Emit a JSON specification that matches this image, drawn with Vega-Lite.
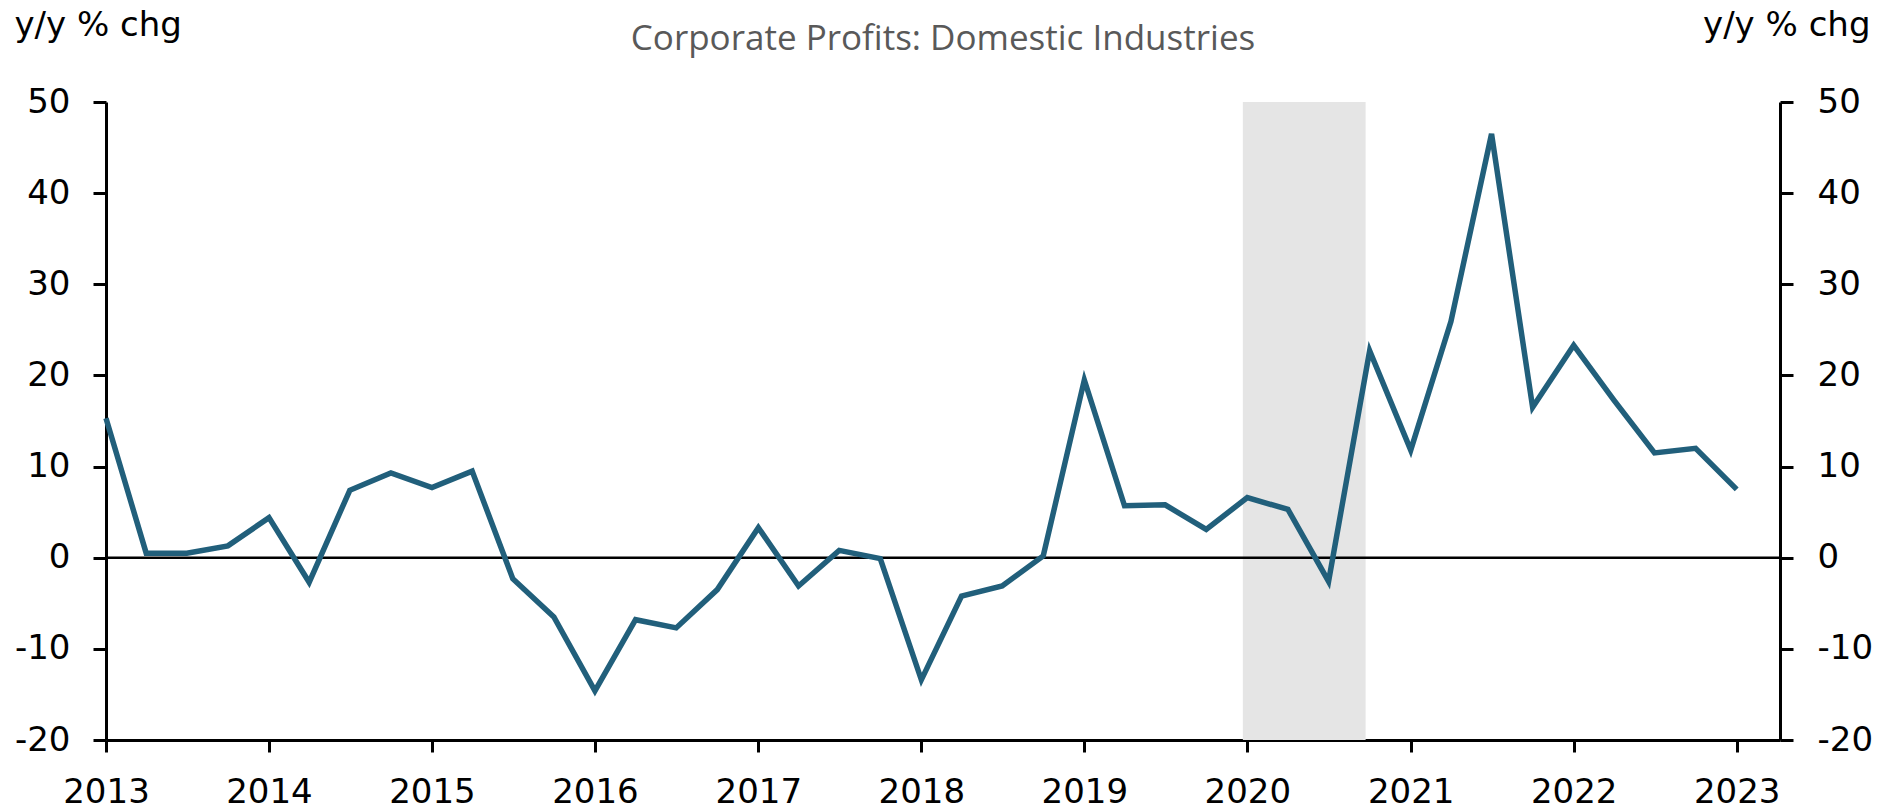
{
  "$schema": "https://vega.github.io/schema/vega-lite/v6.json",
  "autosize": {"type": "none"},
  "width": 1674,
  "height": 638,
  "padding": {"left": 106, "top": 102, "right": 118, "bottom": 72},
  "background": "white",
  "title": {
    "text": "Corporate Profits: Domestic Industries",
    "anchor": "middle",
    "frame": "group",
    "font": "Open Sans",
    "fontSize": 35,
    "fontWeight": "normal",
    "color": "#595959",
    "baseline": "alphabetic",
    "offset": 0,
    "dy": 77
  },
  "config": {
    "view": {"stroke": null},
    "axis": {
      "grid": false,
      "domainColor": "black",
      "domainWidth": 3,
      "tickColor": "black",
      "tickWidth": 3,
      "labelFont": "DejaVu Sans",
      "labelFontSize": 34,
      "labelColor": "black",
      "titleFont": "DejaVu Sans",
      "titleFontSize": 34,
      "titleFontWeight": "normal",
      "titleColor": "black"
    }
  },
  "datasets": {
    "profits": [
      {"date": "2013-01-01", "value": 15.3},
      {"date": "2013-04-01", "value": 0.5},
      {"date": "2013-07-01", "value": 0.5},
      {"date": "2013-10-01", "value": 1.3},
      {"date": "2014-01-01", "value": 4.4},
      {"date": "2014-04-01", "value": -2.7},
      {"date": "2014-07-01", "value": 7.4},
      {"date": "2014-10-01", "value": 9.3},
      {"date": "2015-01-01", "value": 7.7},
      {"date": "2015-04-01", "value": 9.5},
      {"date": "2015-07-01", "value": -2.3},
      {"date": "2015-10-01", "value": -6.5},
      {"date": "2016-01-01", "value": -14.6},
      {"date": "2016-04-01", "value": -6.8},
      {"date": "2016-07-01", "value": -7.7},
      {"date": "2016-10-01", "value": -3.5},
      {"date": "2017-01-01", "value": 3.3},
      {"date": "2017-04-01", "value": -3.1},
      {"date": "2017-07-01", "value": 0.8},
      {"date": "2017-10-01", "value": -0.1},
      {"date": "2018-01-01", "value": -13.4},
      {"date": "2018-04-01", "value": -4.2},
      {"date": "2018-07-01", "value": -3.1},
      {"date": "2018-10-01", "value": 0.2},
      {"date": "2019-01-01", "value": 19.5},
      {"date": "2019-04-01", "value": 5.7},
      {"date": "2019-07-01", "value": 5.8},
      {"date": "2019-10-01", "value": 3.1},
      {"date": "2020-01-01", "value": 6.6},
      {"date": "2020-04-01", "value": 5.3},
      {"date": "2020-07-01", "value": -2.6},
      {"date": "2020-10-01", "value": 22.7},
      {"date": "2021-01-01", "value": 11.8},
      {"date": "2021-04-01", "value": 25.9},
      {"date": "2021-07-01", "value": 46.5},
      {"date": "2021-10-01", "value": 16.5},
      {"date": "2022-01-01", "value": 23.3},
      {"date": "2022-04-01", "value": 17.3},
      {"date": "2022-07-01", "value": 11.5},
      {"date": "2022-10-01", "value": 12.0},
      {"date": "2023-01-01", "value": 7.5}
    ],
    "recession": [{"start": "2019-12-22", "end": "2020-09-22"}],
    "zero": [{"zero": 0}]
  },
  "resolve": {"axis": {"y": "independent"}},
  "layer": [
    {
      "data": {"name": "recession"},
      "mark": {"type": "rect", "color": "#e5e5e5"},
      "encoding": {
        "x": {
          "field": "start", "type": "temporal",
          "scale": {"type": "utc", "domain": [{"year": 2013, "month": 1, "date": 1, "utc": true}, {"year": 2023, "month": 4, "date": 8, "utc": true}]},
          "axis": {
            "title": null,
            "format": "%Y",
            "values": [
              {"year": 2013, "month": 1, "date": 1, "utc": true},
              {"year": 2014, "month": 1, "date": 1, "utc": true},
              {"year": 2015, "month": 1, "date": 1, "utc": true},
              {"year": 2016, "month": 1, "date": 1, "utc": true},
              {"year": 2017, "month": 1, "date": 1, "utc": true},
              {"year": 2018, "month": 1, "date": 1, "utc": true},
              {"year": 2019, "month": 1, "date": 1, "utc": true},
              {"year": 2020, "month": 1, "date": 1, "utc": true},
              {"year": 2021, "month": 1, "date": 1, "utc": true},
              {"year": 2022, "month": 1, "date": 1, "utc": true},
              {"year": 2023, "month": 1, "date": 1, "utc": true}
            ],
            "tickSize": 12,
            "labelPadding": 23,
            "labelFlush": false,
            "labelOverlap": false
          }
        },
        "x2": {"field": "end"}
      }
    },
    {
      "data": {"name": "zero"},
      "mark": {"type": "rule", "color": "black", "strokeWidth": 2.5},
      "encoding": {
        "y": {
          "field": "zero", "type": "quantitative",
          "scale": {"domain": [-20, 50], "nice": false, "zero": false},
          "axis": {
            "orient": "right",
            "values": [-20, -10, 0, 10, 20, 30, 40, 50],
            "labelExpr": "datum.value < 0 ? '-' + abs(datum.value) : '' + datum.value",
            "tickSize": 13,
            "labelPadding": 24,
            "labelFlush": false,
            "labelOverlap": false,
            "title": "y/y % chg",
            "titleAngle": 0,
            "titleAlign": "right",
            "titleBaseline": "alphabetic",
            "titleX": 90,
            "titleY": -67
          }
        }
      }
    },
    {
      "data": {"name": "profits"},
      "mark": {"type": "line", "color": "#215f7b", "strokeWidth": 5.5},
      "encoding": {
        "x": {"field": "date", "type": "temporal"},
        "y": {
          "field": "value", "type": "quantitative",
          "scale": {"domain": [-20, 50], "nice": false, "zero": false},
          "axis": {
            "orient": "left",
            "values": [-20, -10, 0, 10, 20, 30, 40, 50],
            "labelExpr": "datum.value < 0 ? '-' + abs(datum.value) : '' + datum.value",
            "tickSize": 13,
            "labelPadding": 23,
            "labelFlush": false,
            "labelOverlap": false,
            "title": "y/y % chg",
            "titleAngle": 0,
            "titleAlign": "left",
            "titleBaseline": "alphabetic",
            "titleX": -92,
            "titleY": -67
          }
        }
      }
    }
  ]
}
